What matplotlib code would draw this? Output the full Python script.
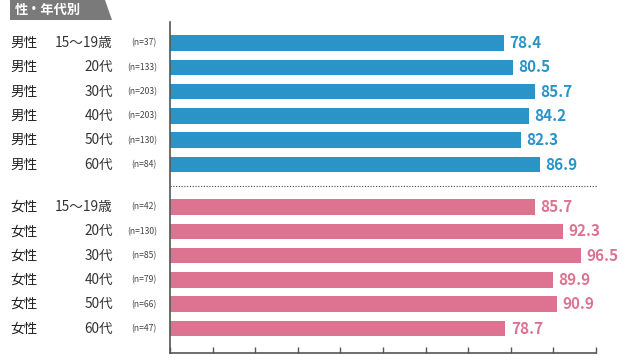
import matplotlib
matplotlib.use("Agg")
import matplotlib.pyplot as plt
from matplotlib.patches import Polygon

plt.rcParams['font.family'] = ['Noto Sans CJK JP', 'DejaVu Sans']

# Data
sexes_m = ["男性"] * 6
sexes_f = ["女性"] * 6
ages = ["15〜19歳", "20代", "30代", "40代", "50代", "60代"]
n_male = [37, 133, 203, 203, 130, 84]
n_female = [42, 130, 85, 79, 66, 47]
male_values = [78.4, 80.5, 85.7, 84.2, 82.3, 86.9]
female_values = [85.7, 92.3, 96.5, 89.9, 90.9, 78.7]

blue = "#2A93C7"
pink = "#DE7391"
axis_col = "#555555"

fig = plt.figure(figsize=(6.37, 3.61), dpi=100)
ax = fig.add_axes([170 / 637, 8 / 361, 426 / 637, 331 / 361])

pitch = 24.3
male_y = [43 + i * pitch for i in range(6)]
female_y = [207 + i * pitch for i in range(6)]
bar_h = 15.5

ax.barh(male_y, male_values, height=bar_h, color=blue)
ax.barh(female_y, female_values, height=bar_h, color=pink)

for y, v in zip(male_y, male_values):
    ax.text(v + 1.3, y, f"{v:.1f}", va="center", ha="left", color=blue,
            fontsize=11, fontweight="bold")
for y, v in zip(female_y, female_values):
    ax.text(v + 1.3, y, f"{v:.1f}", va="center", ha="left", color=pink,
            fontsize=11, fontweight="bold")

# dotted separator
ax.plot([0, 100.3], [186, 186], color="#444444", lw=0.8, ls=(0, (1, 1.5)),
        clip_on=False)

ax.set_xlim(0, 100)
ax.set_ylim(353, 22)
ax.set_xticks(range(0, 101, 10))
ax.set_xticklabels([])
ax.set_yticks([])
ax.tick_params(axis="x", direction="in", length=4, width=1, color=axis_col)
for s in ["top", "right"]:
    ax.spines[s].set_visible(False)
for s in ["left", "bottom"]:
    ax.spines[s].set_color(axis_col)
    ax.spines[s].set_linewidth(1.2)

# row labels in figure pixel coords
def fy(y):
    return 1 - y / 361

rows = list(zip(sexes_m, ages, n_male, male_y)) + list(zip(sexes_f, ages, n_female, female_y))
for sex, age, n, y in rows:
    fig.text(10 / 637, fy(y), sex, ha="left", va="center", fontsize=9.8, color="#222222")
    fig.text(113 / 637, fy(y), age, ha="right", va="center", fontsize=9.8, color="#333333")
    fig.text(157 / 637, fy(y), f"(n={n})", ha="right", va="center", fontsize=6.2, color="#444444")

# header tab
tab = Polygon([(10 / 637, fy(0)), (105 / 637, fy(0)), (112 / 637, fy(20)), (10 / 637, fy(20))],
              closed=True, transform=fig.transFigure, facecolor="#7A7A7A", edgecolor="none")
fig.patches.append(tab)
fig.text(15 / 637, fy(10), "性・年代別", ha="left", va="center", fontsize=9.5,
         color="white", fontweight="bold")

fig.savefig("out.png", dpi=100)
